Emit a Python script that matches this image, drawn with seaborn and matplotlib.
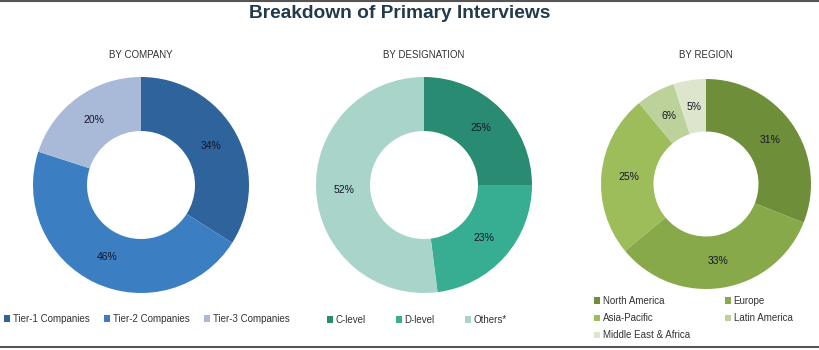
import matplotlib
matplotlib.use("Agg")
import matplotlib.pyplot as plt
from matplotlib.lines import Line2D
import seaborn as sns

sns.set_theme(style="white")
plt.rcParams['font.family'] = ['Liberation Sans', 'DejaVu Sans']

# ---- data ----
company_labels = ["Tier-1 Companies", "Tier-2 Companies", "Tier-3 Companies"]
company_values = [34, 46, 20]
company_colors = ["#2f639c", "#3b7fc2", "#a8bad8"]

designation_labels = ["C-level", "D-level", "Others*"]
designation_values = [25, 23, 52]
designation_colors = ["#2a8b73", "#37ad92", "#a8d4c9"]

region_labels = ["North America", "Europe", "Asia-Pacific", "Latin America", "Middle East & Africa"]
region_values = [31, 33, 25, 6, 5]
region_colors = ["#6f8e3a", "#87a94a", "#9dbc5a", "#bdd29b", "#dde6cc"]

subtitles = ["BY COMPANY", "BY DESIGNATION", "BY REGION"]
title = "Breakdown of Primary Interviews"

W, H = 820, 350
fig = plt.figure(figsize=(W / 100, H / 100), dpi=100)
fig.patch.set_facecolor("white")


def add_donut(cx, cy, r, values, colors):
    ax = fig.add_axes([(cx - r) / W, (H - cy - r) / H, 2 * r / W, 2 * r / H])
    wedges, _, autotexts = ax.pie(
        values, colors=colors, startangle=90, counterclock=False,
        autopct=lambda p: f"{p:.0f}%", pctdistance=0.74,
        wedgeprops=dict(width=0.5, edgecolor="none"),
        textprops=dict(fontsize=7.5, color="#15152a"))
    ax.set_xlim(-1, 1)
    ax.set_ylim(-1, 1)
    ax.set_aspect("equal")
    ax.axis("off")
    return wedges


w1 = add_donut(141, 185, 108, company_values, company_colors)
w2 = add_donut(424, 185, 108, designation_values, designation_colors)
w3 = add_donut(706, 184, 105, region_values, region_colors)

fig.text(400 / W, 1 - 13 / H, title, ha="center", va="center",
         fontsize=13.8, fontweight="bold", color="#223a4c",
         family=['Liberation Sans Narrow', 'Liberation Sans', 'DejaVu Sans'])

for x, s in zip([141, 424, 706], subtitles):
    fig.text(x / W, 1 - 55 / H, s, ha="center", va="center", fontsize=7,
             color="#333333",
             family=['Liberation Sans Narrow', 'Liberation Sans', 'DejaVu Sans'])

leg_kw = dict(frameon=False, fontsize=7, handlelength=0.6, handleheight=0.6,
              handletextpad=0.3, borderaxespad=0, labelcolor="#333333")

fig.legend(w1, company_labels, loc="center left", ncol=3,
           bbox_to_anchor=(0 / W, 1 - 319 / H), columnspacing=1.5, **leg_kw)
fig.legend(w2, designation_labels, loc="center left", ncol=3,
           bbox_to_anchor=(323 / W, 1 - 320 / H), columnspacing=3.1, **leg_kw)

# row-major order for a 2-column legend (matplotlib fills columns first)
order = [0, 2, 4, 1, 3]
fig.legend([w3[i] for i in order], [region_labels[i] for i in order],
           loc="upper left", ncol=2,
           bbox_to_anchor=(590 / W, 1 - 292 / H), columnspacing=3.6,
           labelspacing=0.75, **leg_kw)

fig.add_artist(Line2D([0, 1], [1 - 1 / H, 1 - 1 / H], color="#555555", lw=1.5))
fig.add_artist(Line2D([0, 1], [1 - 347 / H, 1 - 347 / H], color="#555555", lw=1.5))

fig.savefig("out.png", dpi=100, facecolor="white")
